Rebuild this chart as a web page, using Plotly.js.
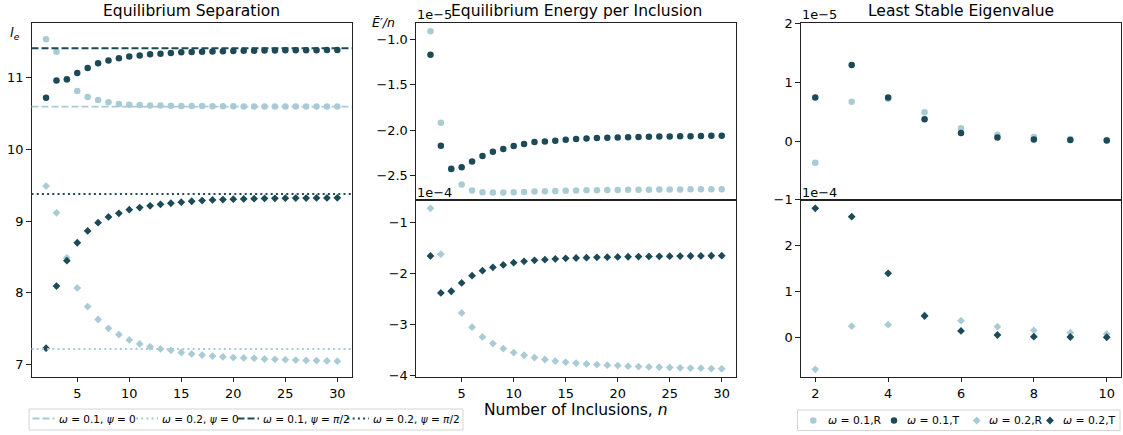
<!DOCTYPE html>
<html>
<head>
<meta charset="utf-8">
<script src="https://cdn.plot.ly/plotly-3.0.1.min.js"></script>
<style>html,body{margin:0;padding:0;background:#fff;}#chart{width:1123px;height:435px;}</style>
</head>
<body>
<div id="chart"></div>
<script>
// ---------- data ----------
const nInclusions = [2,3,4,5,6,7,8,9,10,11,12,13,14,15,16,17,18,19,20,21,22,23,24,25,26,27,28,29,30];
const nEigen = [2,3,4,5,6,7,8,9,10];

// Equilibrium separation l_e
const sepW1Psi0  = [11.535,11.36,10.97,10.815,10.73,10.69,10.657,10.633,10.623,10.618,10.614,10.611,10.609,10.607,10.605,10.604,10.603,10.602,10.601,10.600,10.600,10.599,10.599,10.598,10.598,10.598,10.597,10.597,10.597];
const sepW1Psi90 = [10.72,10.96,10.98,11.065,11.135,11.20,11.24,11.27,11.295,11.31,11.325,11.335,11.345,11.354,11.358,11.362,11.366,11.369,11.372,11.374,11.376,11.378,11.379,11.381,11.382,11.383,11.384,11.385,11.385];
const sepW2Psi0  = [9.49,9.117,8.49,8.07,7.81,7.63,7.507,7.42,7.345,7.29,7.25,7.22,7.20,7.17,7.15,7.135,7.12,7.11,7.10,7.095,7.09,7.08,7.075,7.07,7.065,7.06,7.058,7.053,7.05];
const sepW2Psi90 = [7.23,8.096,8.45,8.70,8.865,8.98,9.06,9.11,9.16,9.19,9.215,9.235,9.25,9.265,9.278,9.288,9.296,9.302,9.307,9.311,9.314,9.317,9.319,9.321,9.322,9.323,9.324,9.325,9.326];
// asymptotic separations: (0.1,0), (0.2,0), (0.1,pi/2), (0.2,pi/2)
const sepAsymptotes = [10.597, 7.22, 11.41, 9.38];

// Energy per inclusion, omega = 0.1 (units of 1e-5)
const enW1R = [-0.912,-1.918,-2.42,-2.597,-2.663,-2.682,-2.686,-2.685,-2.682,-2.679,-2.675,-2.672,-2.669,-2.666,-2.664,-2.662,-2.660,-2.658,-2.657,-2.656,-2.655,-2.654,-2.653,-2.652,-2.652,-2.651,-2.651,-2.650,-2.650];
const enW1T = [-1.169,-2.172,-2.428,-2.407,-2.344,-2.285,-2.238,-2.208,-2.175,-2.153,-2.131,-2.124,-2.115,-2.105,-2.098,-2.092,-2.087,-2.083,-2.080,-2.077,-2.075,-2.072,-2.070,-2.069,-2.067,-2.066,-2.064,-2.062,-2.061];
// Energy per inclusion, omega = 0.2 (units of 1e-4)
const enW2R = [-0.717,-1.62,-2.35,-2.774,-3.055,-3.246,-3.377,-3.475,-3.554,-3.606,-3.652,-3.69,-3.72,-3.743,-3.763,-3.776,-3.789,-3.802,-3.809,-3.822,-3.828,-3.835,-3.841,-3.848,-3.854,-3.858,-3.861,-3.868,-3.874];
const enW2T = [-1.654,-2.381,-2.348,-2.185,-2.041,-1.943,-1.877,-1.831,-1.786,-1.759,-1.740,-1.727,-1.713,-1.700,-1.694,-1.687,-1.682,-1.678,-1.674,-1.670,-1.667,-1.664,-1.661,-1.659,-1.657,-1.655,-1.653,-1.650,-1.648];

// Least stable eigenvalue, omega = 0.1 (1e-5) and omega = 0.2 (1e-4)
const eigW1R = [-0.368,0.67,0.72,0.49,0.22,0.107,0.068,0.035,0.02];
const eigW1T = [0.739,1.293,0.739,0.373,0.136,0.062,0.028,0.017,0.011];
const eigW2R = [-0.688,0.25,0.283,0.49,0.37,0.239,0.16,0.109,0.08];
const eigW2T = [2.813,2.63,1.40,0.472,0.146,0.058,0.022,0.015,0.010];

const lineLabels = ['<i>ω</i> = 0.1, <i>ψ</i> = 0','<i>ω</i> = 0.2, <i>ψ</i> = 0','<i>ω</i> = 0.1, <i>ψ</i> = <i>π</i>/2','<i>ω</i> = 0.2, <i>ψ</i> = <i>π</i>/2'];
const markerLabels = ['<i>ω</i> = 0.1,R','<i>ω</i> = 0.1,T','<i>ω</i> = 0.2,R','<i>ω</i> = 0.2,T'];

// ---------- style ----------
const LIGHT = '#a9cbd5';
const DARK = '#1c4a56';
const FONT = 'DejaVu Sans, sans-serif';
const DASH = '7px,3px';
const DOT = '2px,3.2px';
const lineStyles = [
  {color: LIGHT, dash: DASH},
  {color: LIGHT, dash: DOT},
  {color: DARK, dash: DASH},
  {color: DARK, dash: DOT}
];
const markerStyles = [
  {color: LIGHT, symbol:'circle'},
  {color: DARK, symbol:'circle'},
  {color: LIGHT, symbol:'diamond'},
  {color: DARK, symbol:'diamond'}
];
const circ = c => ({symbol:'circle', size:6.5, color:c, line:{width:0}});
const diam = c => ({symbol:'diamond', size:6, color:c, line:{width:0}});

function pts(x, y, xa, ya, marker) {
  return {type:'scatter', mode:'markers', x:x, y:y, xaxis:xa, yaxis:ya, marker:marker, showlegend:false, cliponaxis:false, hoverinfo:'skip'};
}

const traces = [
  pts(nInclusions, sepW1Psi0, 'x', 'y', circ(LIGHT)),
  pts(nInclusions, sepW1Psi90, 'x', 'y', circ(DARK)),
  pts(nInclusions, sepW2Psi0, 'x', 'y', diam(LIGHT)),
  pts(nInclusions, sepW2Psi90, 'x', 'y', diam(DARK)),
  pts(nInclusions, enW1R, 'x2', 'y2', circ(LIGHT)),
  pts(nInclusions, enW1T, 'x2', 'y2', circ(DARK)),
  pts(nInclusions, enW2R, 'x3', 'y3', diam(LIGHT)),
  pts(nInclusions, enW2T, 'x3', 'y3', diam(DARK)),
  pts(nEigen, eigW1R, 'x4', 'y4', circ(LIGHT)),
  pts(nEigen, eigW1T, 'x4', 'y4', circ(DARK)),
  pts(nEigen, eigW2R, 'x5', 'y5', diam(LIGHT)),
  pts(nEigen, eigW2T, 'x5', 'y5', diam(DARK))
];

const W = 1123, H = 435;
const px = v => v / W;
const py = v => 1 - v / H;

const shapes = sepAsymptotes.map((v, i) => ({
  type:'line', xref:'x domain', x0:0, x1:1, yref:'y', y0:v, y1:v,
  line:{color:lineStyles[i].color, dash:lineStyles[i].dash, width:1.9}, layer:'above'
}));

const annFont = (s) => ({family:FONT, size:s, color:'#000'});
const ann = (text, x, y, xanchor, size) => ({text:text, x:px(x), y:py(y), xref:'paper', yref:'paper', showarrow:false, xanchor:xanchor, yanchor:'middle', font:annFont(size)});

const annotations = [];
const LEGFONT = 10.5;

// ---------- legend 1 (asymptote lines), drawn manually for compact matplotlib-like spacing ----------
const leg1Box = {x0:29, x1:463, y0:409, y1:430};
const leg1Line = [[32.5,54.5],[136,158],[237.5,259],[347.5,369]];
const leg1Text = [56.5, 160, 261, 371];
const leg1Y = 418.5;
shapes.push({type:'rect', xref:'paper', yref:'paper', x0:px(leg1Box.x0), x1:px(leg1Box.x1), y0:py(leg1Box.y1), y1:py(leg1Box.y0), line:{color:'#d4d4d4', width:1}, fillcolor:'rgba(255,255,255,0.8)', layer:'above'});
lineLabels.forEach((lab, i) => {
  shapes.push({type:'line', xref:'paper', yref:'paper', x0:px(leg1Line[i][0]), x1:px(leg1Line[i][1]), y0:py(leg1Y), y1:py(leg1Y), line:{color:lineStyles[i].color, dash:lineStyles[i].dash, width:1.9}, layer:'above'});
  annotations.push(ann(lab, leg1Text[i], leg1Y, 'left', LEGFONT));
});

// ---------- legend 2 (markers) ----------
const leg2Box = {x0:797.5, x1:1120, y0:410, y1:430.5};
const leg2Mark = [813.3, 894, 976.7, 1050];
const leg2Text = [825.5, 905, 987, 1060.5];
const leg2Y = 420.5;
shapes.push({type:'rect', xref:'paper', yref:'paper', x0:px(leg2Box.x0), x1:px(leg2Box.x1), y0:py(leg2Box.y1), y1:py(leg2Box.y0), line:{color:'#d4d4d4', width:1}, fillcolor:'rgba(255,255,255,0.8)', layer:'above'});
markerLabels.forEach((lab, i) => {
  const ms = markerStyles[i];
  if (ms.symbol === 'circle') {
    shapes.push({type:'circle', xref:'paper', yref:'paper', xsizemode:'pixel', ysizemode:'pixel', xanchor:px(leg2Mark[i]), yanchor:py(leg2Y), x0:-3.25, x1:3.25, y0:-3.25, y1:3.25, fillcolor:ms.color, line:{width:0}, layer:'above'});
  } else {
    shapes.push({type:'path', xref:'paper', yref:'paper', xsizemode:'pixel', ysizemode:'pixel', xanchor:px(leg2Mark[i]), yanchor:py(leg2Y), path:'M0,-3.9 L3.9,0 L0,3.9 L-3.9,0 Z', fillcolor:ms.color, line:{width:0}, layer:'above'});
  }
  annotations.push(ann(lab, leg2Text[i], leg2Y - 0.5, 'left', 10.8));
});

const axBase = {
  showline:true, mirror:true, linecolor:'#222', linewidth:1,
  ticks:'outside', ticklen:4.5, tickwidth:1, tickcolor:'#222',
  showgrid:false, zeroline:false,
  tickfont:{family:FONT, size:12.9, color:'#000'}
};
const ax = o => Object.assign({}, axBase, o);

const dLeft = [px(31.5), px(351.9)];
const dMid = [px(415.9), px(736.3)];
const dRight = [px(800.7), px(1121.3)];
const dFull = [py(376.7), py(23.3)];
const dTop = [py(200), py(23.3)];
const dBot = [py(376.7), py(200)];

annotations.push(
  {text:'Equilibrium Separation', x:(dLeft[0]+dLeft[1])/2, y:py(11), xref:'paper', yref:'paper', showarrow:false, xanchor:'center', yanchor:'middle', font:annFont(15.5)},
  {text:'Equilibrium Energy per Inclusion', x:(dMid[0]+dMid[1])/2, y:py(11), xref:'paper', yref:'paper', showarrow:false, xanchor:'center', yanchor:'middle', font:annFont(15.5)},
  {text:'Least Stable Eigenvalue', x:(dRight[0]+dRight[1])/2, y:py(11), xref:'paper', yref:'paper', showarrow:false, xanchor:'center', yanchor:'middle', font:annFont(15.5)},
  {text:'Number of Inclusions, <i>n</i>', x:(dMid[0]+dMid[1])/2, y:py(410), xref:'paper', yref:'paper', showarrow:false, xanchor:'center', yanchor:'middle', font:annFont(15.5)},
  ann('<i>l</i><sub><i>e</i></sub>', 15, 34, 'center', 13),
  ann('<i>Ē′/n</i>', 383, 23, 'center', 12.5),
  ann('1e−5', 415, 15, 'left', 12.9),
  ann('1e−4', 415, 192.5, 'left', 12.9),
  ann('1e−5', 800, 15, 'left', 12.9),
  ann('1e−4', 800, 192.5, 'left', 12.9)
);

const layout = {
  width:W, height:H,
  margin:{l:0, r:0, t:0, b:0, autoexpand:false},
  paper_bgcolor:'#fff', plot_bgcolor:'#fff',
  font:{family:FONT, color:'#000'},
  showlegend:false,
  xaxis: ax({domain:dLeft, range:[0.6,31.4], tickvals:[5,10,15,20,25,30], anchor:'y'}),
  yaxis: ax({domain:dFull, range:[6.833,11.758], tickvals:[7,8,9,10,11], anchor:'x'}),
  xaxis2: ax({domain:dMid, range:[0.6,31.4], ticks:'', showticklabels:false, anchor:'y2'}),
  yaxis2: ax({domain:dTop, range:[-2.768,-0.824], tickvals:[-2.5,-2.0,-1.5,-1.0], tickformat:'.1f', anchor:'x2'}),
  xaxis3: ax({domain:dMid, range:[0.6,31.4], tickvals:[5,10,15,20,25,30], anchor:'y3'}),
  yaxis3: ax({domain:dBot, range:[-4.028,-0.554], tickvals:[-4,-3,-2,-1], anchor:'x3'}),
  xaxis4: ax({domain:dRight, range:[1.6,10.4], ticks:'', showticklabels:false, anchor:'y4'}),
  yaxis4: ax({domain:dTop, range:[-1.0005,2.0005], tickvals:[-1,0,1,2], anchor:'x4'}),
  xaxis5: ax({domain:dRight, range:[1.6,10.4], tickvals:[2,4,6,8,10], anchor:'y5'}),
  yaxis5: ax({domain:dBot, range:[-0.848,2.993], tickvals:[0,1,2], anchor:'x5'}),
  shapes: shapes,
  annotations: annotations
};

Plotly.newPlot('chart', traces, layout, {staticPlot:true, displayModeBar:false});
</script>
</body>
</html>
